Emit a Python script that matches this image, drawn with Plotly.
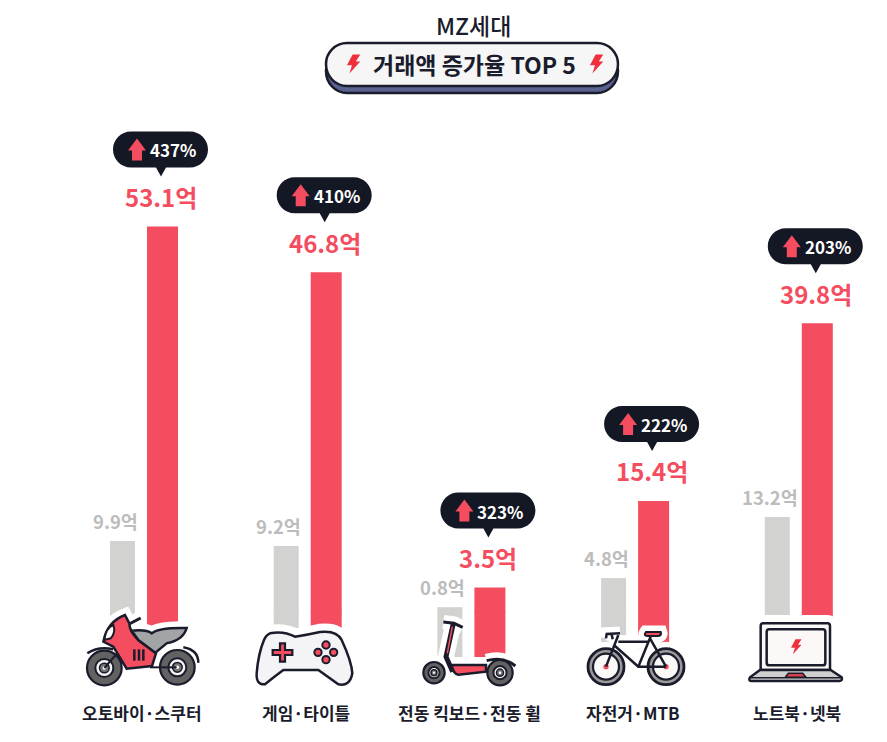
import re
import plotly.graph_objects as go

# --- data ---
categories = ["오토바이·스쿠터", "게임·타이틀", "전동 킥보드·전동 휠", "자전거·MTB", "노트북·넷북"]
previous = [9.9, 9.2, 0.8, 4.8, 13.2]
current = [53.1, 46.8, 3.5, 15.4, 39.8]
growth = ["437%", "410%", "323%", "222%", "203%"]

# --- page geometry ---
W, H = 887, 742
GROUP = 163.7       # pixels between category centres
X0 = 144.0          # pixel x of the first category
ZERO = 613.0        # pixel y of value 0
K = 7.28            # pixels per unit of value
STEM_END = 657      # bars run on behind the icons down to here

INK = "#1a1c2b"
RED = "#f44d60"
BAR_GREY = "#d2d2d0"
LABEL_GREY = "#bcbcbc"
FONT = "Noto Sans CJK KR"


def xp(i):
    return X0 + GROUP * i


def yp(v):
    return ZERO - K * v


shapes = []
annotations = []


def fx(x):
    return x / W


def fy(y):
    return 1 - y / H


def add_rect(x0, y0, x1, y1, fill):
    shapes.append(dict(type="rect", xref="paper", yref="paper", x0=fx(x0), x1=fx(x1),
                       y0=fy(y0), y1=fy(y1), fillcolor=fill, line=dict(width=0), layer="below"))


def add_path(ox, oy, d, fill, line=None, w=0, scale=1 / 3):
    """Draw an SVG-style path given in local units, placed at pixel origin (ox, oy)."""
    tokens = re.findall(r"[A-Za-z]|-?\d+\.?\d*", d)
    out, is_x = [], True
    for t in tokens:
        if t.isalpha():
            out.append(t)
            is_x = True
        else:
            v = float(t) * scale
            out.append(f"{fx(ox + v):.5f}" if is_x else f"{fy(oy + v):.5f}")
            is_x = not is_x
    s = dict(type="path", xref="paper", yref="paper", path=" ".join(out),
             line=dict(width=w, color=line or "rgba(0,0,0,0)"), layer="above")
    s["fillcolor"] = fill if fill else "rgba(0,0,0,0)"
    shapes.append(s)


def add_circle(ox, oy, cx, cy, r, fill, line=None, w=0, scale=1 / 3):
    shapes.append(dict(type="circle", xref="paper", yref="paper",
                       x0=fx(ox + (cx - r) * scale), x1=fx(ox + (cx + r) * scale),
                       y0=fy(oy + (cy - r) * scale), y1=fy(oy + (cy + r) * scale),
                       fillcolor=fill or "rgba(0,0,0,0)",
                       line=dict(width=w, color=line or "rgba(0,0,0,0)"), layer="above"))


def add_text(text, size, color, weight=700, **kw):
    """Centred label; position and axis references come in through kw."""
    a = dict(text=text, xref="paper", yref="paper", showarrow=False,
             xanchor="center", yanchor="middle",
             font=dict(family=FONT, size=size, color=color, weight=weight))
    a.update(kw)
    annotations.append(a)


def draw_icon(ox, oy, parts, halo=11):
    """White sticker outline first, then the artwork on top of it."""
    for p in parts:
        if p[0] == "c":
            _, cx, cy, r, fill, line, w = p
            add_circle(ox, oy, cx, cy, r, "#ffffff", "#ffffff", w + halo)
        else:
            _, d, fill, line, w = p
            add_path(ox, oy, d, "#ffffff" if fill else None, "#ffffff", w + halo)
    for p in parts:
        if p[0] == "c":
            _, cx, cy, r, fill, line, w = p
            add_circle(ox, oy, cx, cy, r, fill, line, w)
        else:
            _, d, fill, line, w = p
            add_path(ox, oy, d, fill, line, w)


def wheel(cx, cy, r):
    return [
        ("c", cx, cy, r, "#626262", INK, 2.2),
        ("c", cx, cy, r * 0.52, "#f4f4f4", INK, 2),
        ("c", cx, cy, r * 0.28, "#777777", INK, 1.5),
        ("c", cx, cy, r * 0.1, "#ffffff", None, 0),
    ]


def bolt(ox, oy, size=1.0):
    """Red lightning mark centred on a pixel position."""
    d = "M 2 -30 L 26 -30 L 12 -8 L 26 -8 L -8 30 L 0 4 L -16 4 Z"
    add_path(ox, oy, d, "#ee2f3c", None, 0, scale=size / 3)


# --- bars continue below zero behind the icons ---
for i in range(len(categories)):
    add_rect(xp(i) - 34, ZERO - 1, xp(i) - 9, STEM_END, BAR_GREY)
    add_rect(xp(i) + 3, ZERO - 1, xp(i) + 34, STEM_END, RED)

# --- motorcycle ---
moto = wheel(103, 234, 52) + wheel(322, 232, 52) + [
    ("p", "M 52 190 Q 85 168 130 178", None, INK, 2.5),
    ("p", "M 340 172 Q 385 180 385 218", None, INK, 2.5),
    ("p", "M 172 105 L 212 84", None, INK, 3),
    ("p", "M 103 234 L 150 180", None, INK, 2),
    ("p", "M 320 232 L 240 232", None, INK, 2),
    ("p", "M 100 155 Q 112 95 165 75 L 178 100 Q 178 125 205 150 L 258 190 L 246 228 "
          "L 170 236 L 130 170 Z", RED, INK, 2.5),
    ("p", "M 103 150 Q 108 112 130 105 Q 138 128 122 145 Z", "#ffffff", INK, 2),
    ("p", "M 185 122 Q 230 118 245 130 Q 265 112 350 114 Q 340 150 290 160 L 256 188 "
          "L 205 150 Z", "#a2a4a6", INK, 2.5),
    ("p", "M 193 178 L 193 212", None, INK, 2.5),
    ("p", "M 207 178 L 207 212", None, INK, 2.5),
    ("p", "M 220 178 L 220 212", None, INK, 2.5),
]
draw_icon(70, 590, moto)

# --- game pad ---
pad = [
    ("p", "M 90 130 Q 130 122 165 140 Q 200 135 240 126 Q 290 120 305 150 Q 335 215 337 250 "
          "Q 330 290 295 283 Q 270 265 235 240 L 130 240 Q 100 262 75 283 Q 48 285 50 250 "
          "Q 55 190 72 150 Q 78 135 90 130 Z", "#f4f4f7", INK, 2.5),
    ("p", "M 120 160 L 135 160 L 135 180 L 157 180 L 157 195 L 135 195 L 135 215 L 120 215 "
          "L 120 195 L 98 195 L 98 180 L 120 180 Z", RED, INK, 2.2),
    ("c", 258, 165, 11, RED, INK, 2),
    ("c", 234, 187, 11, RED, INK, 2),
    ("c", 281, 187, 11, RED, INK, 2),
    ("c", 258, 209, 11, RED, INK, 2),
]
draw_icon(240, 590, pad, halo=14)

# --- kick scooter ---
scooter = wheel(132, 308, 32) + wheel(330, 308, 38) + [
    ("p", "M 190 160 L 168 260 L 188 305", None, INK, 5),
    ("p", "M 187 170 L 172 250", None, RED, 1.5),
    ("p", "M 160 156 L 192 160 L 218 172", None, INK, 3),
    ("p", "M 185 285 L 288 285 L 288 305 L 205 314 Q 190 312 185 285 Z", RED, INK, 2.5),
    ("p", "M 290 272 Q 340 258 376 288", None, INK, 3),
]
draw_icon(390, 570, scooter)

# --- bicycle ---
bike = [
    ("c", 108, 290, 54, "#9a9a9a", INK, 2.8),
    ("c", 108, 290, 39, "#fbf9f8", INK, 2.2),
    ("c", 288, 290, 54, "#9a9a9a", INK, 2.8),
    ("c", 288, 290, 39, "#fbf9f8", INK, 2.2),
    ("c", 108, 290, 8, RED, None, 0),
    ("c", 288, 290, 8, RED, None, 0),
    ("p", "M 108 290 L 145 195 M 145 215 L 238 215 M 135 228 L 205 290 L 288 290 "
          "M 205 290 L 245 192 M 240 205 L 288 290", None, INK, 2.5),
    ("p", "M 108 205 L 110 192 L 150 190 M 125 192 L 128 208", None, INK, 2.5),
    ("p", "M 228 186 L 272 186 Q 276 198 262 198 L 232 198 Q 220 198 228 186 Z", RED, INK, 2.2),
]
draw_icon(570, 570, bike)

# --- laptop ---
laptop = [
    ("p", "M 100 100 L 292 100 Q 300 100 300 108 L 300 240 L 92 240 L 92 108 Q 92 100 100 100 Z",
     "#fbf8f7", INK, 2.5),
    ("p", "M 118 118 L 278 118 Q 286 118 286 126 L 286 218 Q 286 226 278 226 L 118 226 "
          "Q 110 226 110 218 L 110 126 Q 110 118 118 118 Z", "#fbf8f7", INK, 2.5),
    ("p", "M 90 240 L 302 240 L 335 262 Q 338 273 328 273 L 66 273 Q 54 273 60 262 Z",
     "#cfcfcf", INK, 2.5),
    ("p", "M 60 263 L 336 263", None, INK, 1.5),
    ("p", "M 175 250 L 218 250 L 228 262 L 166 262 Z", "#d8404e", INK, 1.5),
]
draw_icon(730, 590, laptop, halo=14)
bolt(730 + 195 / 3, 590 + 170 / 3, 0.75)

# --- heading plaque ---
add_path(326, 43, "M 21 7 L 271 7 C 283 7 292 17 292 28 C 292 40 283 50 271 50 L 21 50 "
                  "C 9 50 0 40 0 28 C 0 17 9 7 21 7 Z", "#59628f", INK, 2.5, scale=1)
add_path(326, 43, "M 21 0 L 271 0 C 283 0 292 10 292 21 C 292 33 283 43 271 43 L 21 43 "
                  "C 9 43 0 33 0 21 C 0 10 9 0 21 0 Z", "#f6f6f7", INK, 2.5, scale=1)
bolt(352, 64, 0.95)
bolt(595, 64, 0.95)

add_text("MZ세대", 23, INK, weight=500, x=fx(473), y=fy(25))
add_text("거래액 증가율 TOP 5", 23, INK, x=fx(475), y=fy(64))

# --- call-outs and value labels follow the bar tops ---
for i, cat in enumerate(categories):
    cx = xp(i) + 16.5   # red bar centre
    top = yp(current[i])
    px, py = cx - 47.5, top - 95     # top-left corner of the pill
    add_path(px, py, "M 18 0 L 77 0 C 87 0 95 8 95 18 C 95 28 87 36 77 36 L 53 36 L 48 45 "
                     "L 43 36 L 18 36 C 8 36 0 28 0 18 C 0 8 8 0 18 0 Z",
             "#141724", None, 0, scale=1)
    add_path(px, py, "M 24 7 L 33 19 L 29 19 L 29 29 L 19 29 L 19 19 L 15 19 Z", RED, None, 0, scale=1)
    add_text(growth[i], 17, "#ffffff", x=fx(px + 60), y=fy(py + 18.5))
    add_text(f"{current[i]}억", 24, RED, xref="x", yref="y", x=i, y=current[i], xshift=17, yshift=30)
    add_text(f"{previous[i]}억", 18.5, LABEL_GREY, xref="x", yref="y", x=i, y=previous[i],
             xshift=-29, yshift=20)
    add_text(cat, 17, INK, xref="x", x=i, y=fy(712), xshift=-2)

fig = go.Figure()
fig.add_bar(x=list(range(len(categories))), y=previous, width=25 / GROUP, offset=-34 / GROUP,
            marker=dict(color=BAR_GREY, line=dict(width=0)), hoverinfo="skip", name="이전")
fig.add_bar(x=list(range(len(categories))), y=current, width=31 / GROUP, offset=3 / GROUP,
            marker=dict(color=RED, line=dict(width=0)), hoverinfo="skip", name="현재")

fig.update_layout(
    width=W, height=H, autosize=False, barmode="overlay", showlegend=False,
    margin=dict(l=0, r=0, t=0, b=0), paper_bgcolor="#ffffff", plot_bgcolor="#ffffff",
    xaxis=dict(range=[-X0 / GROUP, (W - X0) / GROUP], visible=False, fixedrange=True),
    yaxis=dict(range=[(ZERO - H) / K, ZERO / K], visible=False, fixedrange=True),
    shapes=shapes, annotations=annotations,
)
fig.write_html("out.html", config=dict(displayModeBar=False))
